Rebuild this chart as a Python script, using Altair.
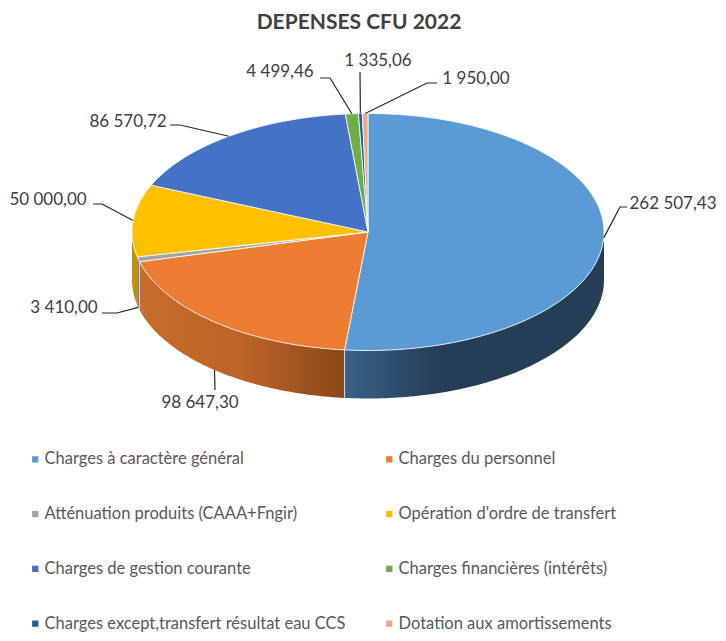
import numpy as np
import pandas as pd
import altair as alt

# ---- data ----
categories = [
    "Charges à caractère général",
    "Charges du personnel",
    "Atténuation  produits (CAAA+Fngir)",
    "Opération d'ordre de transfert",
    "Charges de gestion courante",
    "Charges financières  (intérêts)",
    "Charges except,transfert  résultat eau CCS",
    "Dotation aux amortissements",
]
values = [262507.43, 98647.30, 3410.00, 50000.00, 86570.72, 4499.46, 1335.06, 1950.00]
value_labels = ["262 507,43", "98 647,30", "3 410,00", "50 000,00", "86 570,72", "4 499,46", "1 335,06", "1 950,00"]
colors = ["#5B9BD5", "#ED7D31", "#A5A5A5", "#FFC000", "#4472C4", "#70AD47", "#255E91", "#F1A78A"]

# ---- layout (pixel space of the picture) ----
CX, CY, RX, RY, DEPTH = 368.0, 232.0, 236.0, 118.5, 48.0
label_x = [673, 200, 64, 48, 128, 280, 378, 476]
label_y = [204, 403, 308, 200, 122, 72, 61, 79]
elbow_x = [620, None, 117, 102, 180, 330, None, 427]
elbow_y = [207, None, 313, 204, 125, 78, None, 83]
end_x = [627, 215, 102, 93, 170, 320, 360, 437]
end_y = [207, 390, 313, 204, 125, 78, 72, 83]
wall_stops = {
    0: [("#37608A", 0.0), ("#243E55", 0.37), ("#243E55", 1.0)],
    1: [("#C76C2B", 0.0), ("#BC6427", 0.5), ("#8A4818", 1.0)],
    2: [("#7C7C7C", 0.0), ("#7C7C7C", 1.0)],
    3: [("#C49400", 0.0), ("#BF9000", 1.0)],
}


def ex(t):
    return CX + RX * np.sin(np.radians(t))


def ey(t):
    return CY - RY * np.cos(np.radians(t))


edges = np.concatenate([[0.0], np.cumsum(values)]) / np.sum(values) * 360.0
mids = (edges[:-1] + edges[1:]) / 2.0

x_scale = alt.Scale(domain=[8, 718], range=[0, 710], nice=False, zero=False)
y_scale = alt.Scale(domain=[40, 632], range=[0, 592], nice=False, zero=False)
X = alt.X("x:Q", scale=x_scale, axis=None)
Y = alt.Y("y:Q", scale=y_scale, axis=None)

# top faces
rows = []
for c, a, b in zip(categories, edges[:-1], edges[1:]):
    ts = np.linspace(a, b, max(3, int((b - a) / 1.5) + 2))
    pts = [(CX, CY)] + [(ex(t), ey(t)) for t in ts] + [(CX, CY)]
    for i, (x, y) in enumerate(pts):
        rows.append({"cat": c, "i": i, "x": x, "y": y})
top = alt.Chart(pd.DataFrame(rows)).mark_line(
    filled=True, stroke="#FFFFFF", strokeWidth=0.8, strokeJoin="round"
).encode(
    x=X, y=Y, order=alt.Order("i:Q"),
    color=alt.Color(
        "cat:N",
        scale=alt.Scale(domain=categories, range=colors),
        legend=alt.Legend(
            orient="none", legendX=19, legendY=411, columns=2, title=None,
            direction="horizontal",
            symbolType="square", symbolSize=40, symbolStrokeWidth=0,
            labelFont="Lato", labelFontSize=16.5, labelColor="#595959",
            labelLimit=400, labelOffset=1, rowPadding=37.8, columnPadding=31,
            padding=0, gridAlign="each",
        ),
    ),
)

# side walls (front half of the ellipse only)
layers = []
for k, stops in wall_stops.items():
    a, b = max(edges[k], 90.0), min(edges[k + 1], 270.0)
    ts = np.linspace(a, b, max(3, int((b - a)) + 2))
    wall = pd.DataFrame({"x": ex(ts), "y": ey(ts), "y2": ey(ts) + DEPTH})
    layers.append(
        alt.Chart(wall).mark_area(
            fill=alt.LinearGradient(
                gradient="linear", x1=0, x2=1, y1=0, y2=0,
                stops=[alt.GradientStop(color=c, offset=o) for c, o in stops],
            )
        ).encode(x=X, y=Y, y2="y2:Q")
    )

# light seams between wall pieces
seam_rows = []
for k in (1, 2):
    t = edges[k]
    seam_rows += [{"k": k, "i": 0, "x": ex(t), "y": ey(t)}, {"k": k, "i": 1, "x": ex(t), "y": ey(t) + DEPTH}]
seams = alt.Chart(pd.DataFrame(seam_rows)).mark_line(stroke="#D9D9D9", strokeWidth=1).encode(
    x=X, y=Y, detail="k:N", order=alt.Order("i:Q")
)

# leader lines start on the slice rim at its mid angle
lead_rows = []
for k, t in enumerate(mids):
    drop = DEPTH if 185 < t < 260 else 0.0
    path = [(ex(t), ey(t) + drop)]
    if elbow_x[k] is not None:
        path.append((elbow_x[k], elbow_y[k]))
    path.append((end_x[k], end_y[k]))
    for i, (x, y) in enumerate(path):
        lead_rows.append({"k": k, "i": i, "x": x, "y": y})
leaders = alt.Chart(pd.DataFrame(lead_rows)).mark_line(stroke="#262626", strokeWidth=1.2).encode(
    x=X, y=Y, detail="k:N", order=alt.Order("i:Q")
)

labels = alt.Chart(pd.DataFrame({"x": label_x, "y": label_y, "t": value_labels})).mark_text(
    font="Lato", fontSize=17, color="#404040", align="center", baseline="middle"
).encode(x=X, y=Y, text="t:N")

chart = alt.layer(*layers, seams, top, leaders, labels).properties(
    width=710,
    height=592,
    padding={"left": 0, "top": 32, "right": 0, "bottom": 0},
    autosize=alt.AutoSizeParams(type="none"),
    background="#FFFFFF",
    title=alt.TitleParams(
        "DEPENSES CFU 2022", font="Lato", fontSize=21, fontWeight="bold",
        color="#404040", anchor="middle", dx=-4, offset=7,
    ),
).configure_view(stroke=None)

chart.save("out.html", embed_options={"renderer": "svg", "actions": False})
